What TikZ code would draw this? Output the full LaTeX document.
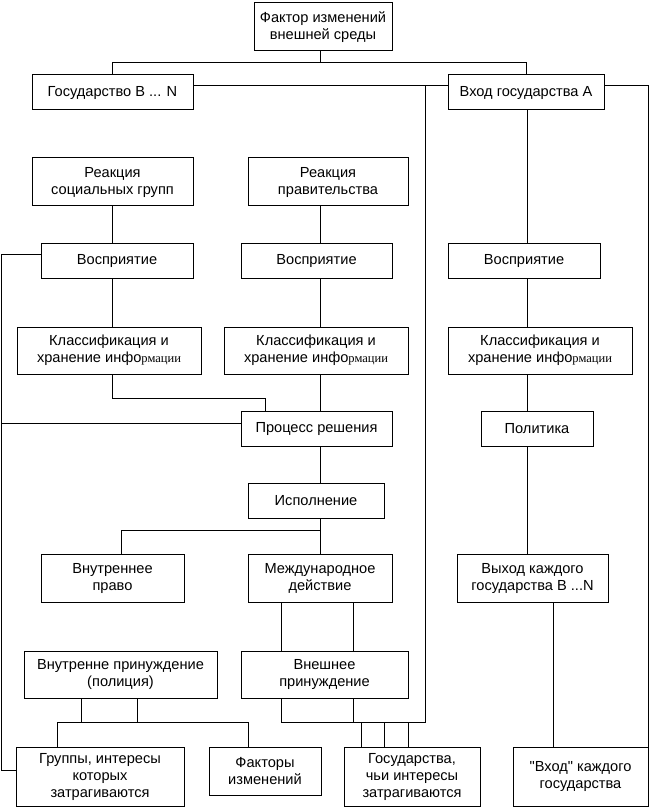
\documentclass[tikz,border=0pt]{standalone}
\usepackage{fontspec}
\setmainfont{Liberation Sans}[Ligatures=TeXOff]
\newfontfamily\serifx{Liberation Serif}
\newcommand\inform{инфо{\serifx\fontsize{12.5}{17}\selectfont рмации}}
\begin{document}
\begin{tikzpicture}[x=1pt,y=-1pt,line width=1pt,
  box/.style={draw, rectangle, inner sep=0pt, align=center,
    font=\fontsize{14.6}{17}\selectfont}]
\useasboundingbox (0,0) rectangle (652,810);
\newcommand\bx[6]{\node[box,minimum width=#4pt,minimum height=#5pt] (#1) at (#2,#3) {#6};}
% nodes
\bx{f}{323}{27}{138}{48}{Фактор изменений\\внешней среды}
\bx{gB}{112.5}{92.5}{161}{35}{Государство B ... N}
\bx{vA}{526}{92.5}{156}{35}{Вход государства A}
\bx{rs}{112.5}{182}{161}{48}{Реакция\\социальных групп}
\bx{rg}{328}{182}{160}{48}{Реакция\\правительства}
\bx{vl}{117}{260.5}{152}{35}{Восприятие}
\bx{vm}{316.5}{260.5}{151}{35}{Восприятие}
\bx{vr}{524}{260.5}{152}{35}{Восприятие}
\bx{kl}{109}{350.5}{184}{47}{Классификация и\\хранение \inform}
\bx{km}{316}{350.5}{184}{47}{Классификация и\\хранение \inform}
\bx{kr}{540}{350.5}{184}{47}{Классификация и\\хранение \inform}
\bx{pr}{316.5}{428.5}{151}{35}{Процесс решения}
\bx{pol}{537}{428.5}{112}{35}{Политика}
\bx{isp}{316}{500.5}{136}{35}{Исполнение}
\bx{vp}{112.5}{578}{143}{48}{Внутреннее\\право}
\bx{md}{320}{578}{144}{48}{Международное\\действие}
\bx{vyh}{532.5}{578}{151}{48}{Выход каждого\\государства B ...N}
\bx{vpp}{120.5}{674.5}{193}{47}{Внутренне принуждение\\(полиция)}
\bx{vnp}{324.5}{674.5}{167}{47}{Внешнее\\принуждение}
\bx{gr}{100}{776.5}{168}{59}{Группы, интересы\\которых\\затрагиваются}
\bx{fi}{265}{771}{112}{48}{Факторы\\изменений}
\bx{gs}{412}{776.5}{136}{59}{Государства,\\чьи интересы\\затрагиваются}
\bx{vk}{580.5}{776.5}{135}{59}{"Вход" каждого\\государства}
% helper coordinates
\coordinate (c1) at (112,0); \coordinate (c2) at (320,0); \coordinate (c3) at (527,0);
\coordinate (xl) at (1.5,0);
\coordinate (x57) at (57,0); \coordinate (x81) at (81,0); \coordinate (x121) at (121,0);
\coordinate (x137) at (137,0); \coordinate (x248) at (248,0); \coordinate (x265) at (265,0);
\coordinate (x281) at (281,0); \coordinate (x353) at (353,0); \coordinate (x361) at (361,0);
\coordinate (x384) at (384,0); \coordinate (x408) at (408,0); \coordinate (x425) at (425,0);
\coordinate (x553) at (553,0);
\coordinate (y63) at (0,63); \coordinate (y86) at (0,86); \coordinate (y254) at (0,254);
\coordinate (y398) at (0,398); \coordinate (y423) at (0,423); \coordinate (y530) at (0,530);
\coordinate (y722) at (0,722); \coordinate (y770) at (0,770);
% top
\draw (f.south -| c2) -- (c2 |- y63);
\draw (gB.north) -- (gB.north |- y63) -- (vA.north |- y63) -- (vA.north);
\draw (gB.east |- y86) -- (vA.west |- y86);
\draw (vA.east |- y86) -- (vk.north east |- y86) -- (vk.north east);
% left column
\draw (rs.south -| c1) -- (vl.north -| c1);
\draw (vl.south -| c1) -- (kl.north -| c1);
\draw (kl.south -| c1) -- (c1 |- y398) -- (x265 |- y398) -- (pr.north -| x265);
\draw (vl.west |- y254) -- (xl |- y254) -- (xl |- y770) -- (gr.west |- y770);
\draw (pr.west |- y423) -- (xl |- y423);
% middle column
\draw (rg.south -| c2) -- (vm.north -| c2);
\draw (vm.south -| c2) -- (km.north -| c2);
\draw (km.south -| c2) -- (pr.north -| c2);
\draw (pr.south -| c2) -- (isp.north -| c2);
\draw (isp.south -| c2) -- (md.north -| c2);
\draw (c2 |- y530) -- (x121 |- y530) -- (vp.north -| x121);
\draw (md.south -| x281) -- (vnp.north -| x281);
\draw (md.south -| x353) -- (vnp.north -| x353);
\draw (vnp.south -| x281) -- (x281 |- y722) -- (x425 |- y722) -- (x425 |- y86);
\draw (vnp.south -| x353) -- (x353 |- y722);
\foreach \c in {x361,x384,x408} \draw (\c |- y722) -- (gs.north -| \c);
% police
\draw (vpp.south -| x81) -- (x81 |- y722);
\draw (vpp.south -| x137) -- (x137 |- y722);
\draw (x57 |- y722) -- (x248 |- y722);
\draw (x57 |- y722) -- (gr.north -| x57);
\draw (x248 |- y722) -- (fi.north -| x248);
% right column
\draw (vA.south -| c3) -- (vr.north -| c3);
\draw (vr.south -| c3) -- (kr.north -| c3);
\draw (kr.south -| c3) -- (pol.north -| c3);
\draw (pol.south -| c3) -- (vyh.north -| c3);
\draw (vyh.south -| x553) -- (vk.north -| x553);
\end{tikzpicture}
\end{document}
